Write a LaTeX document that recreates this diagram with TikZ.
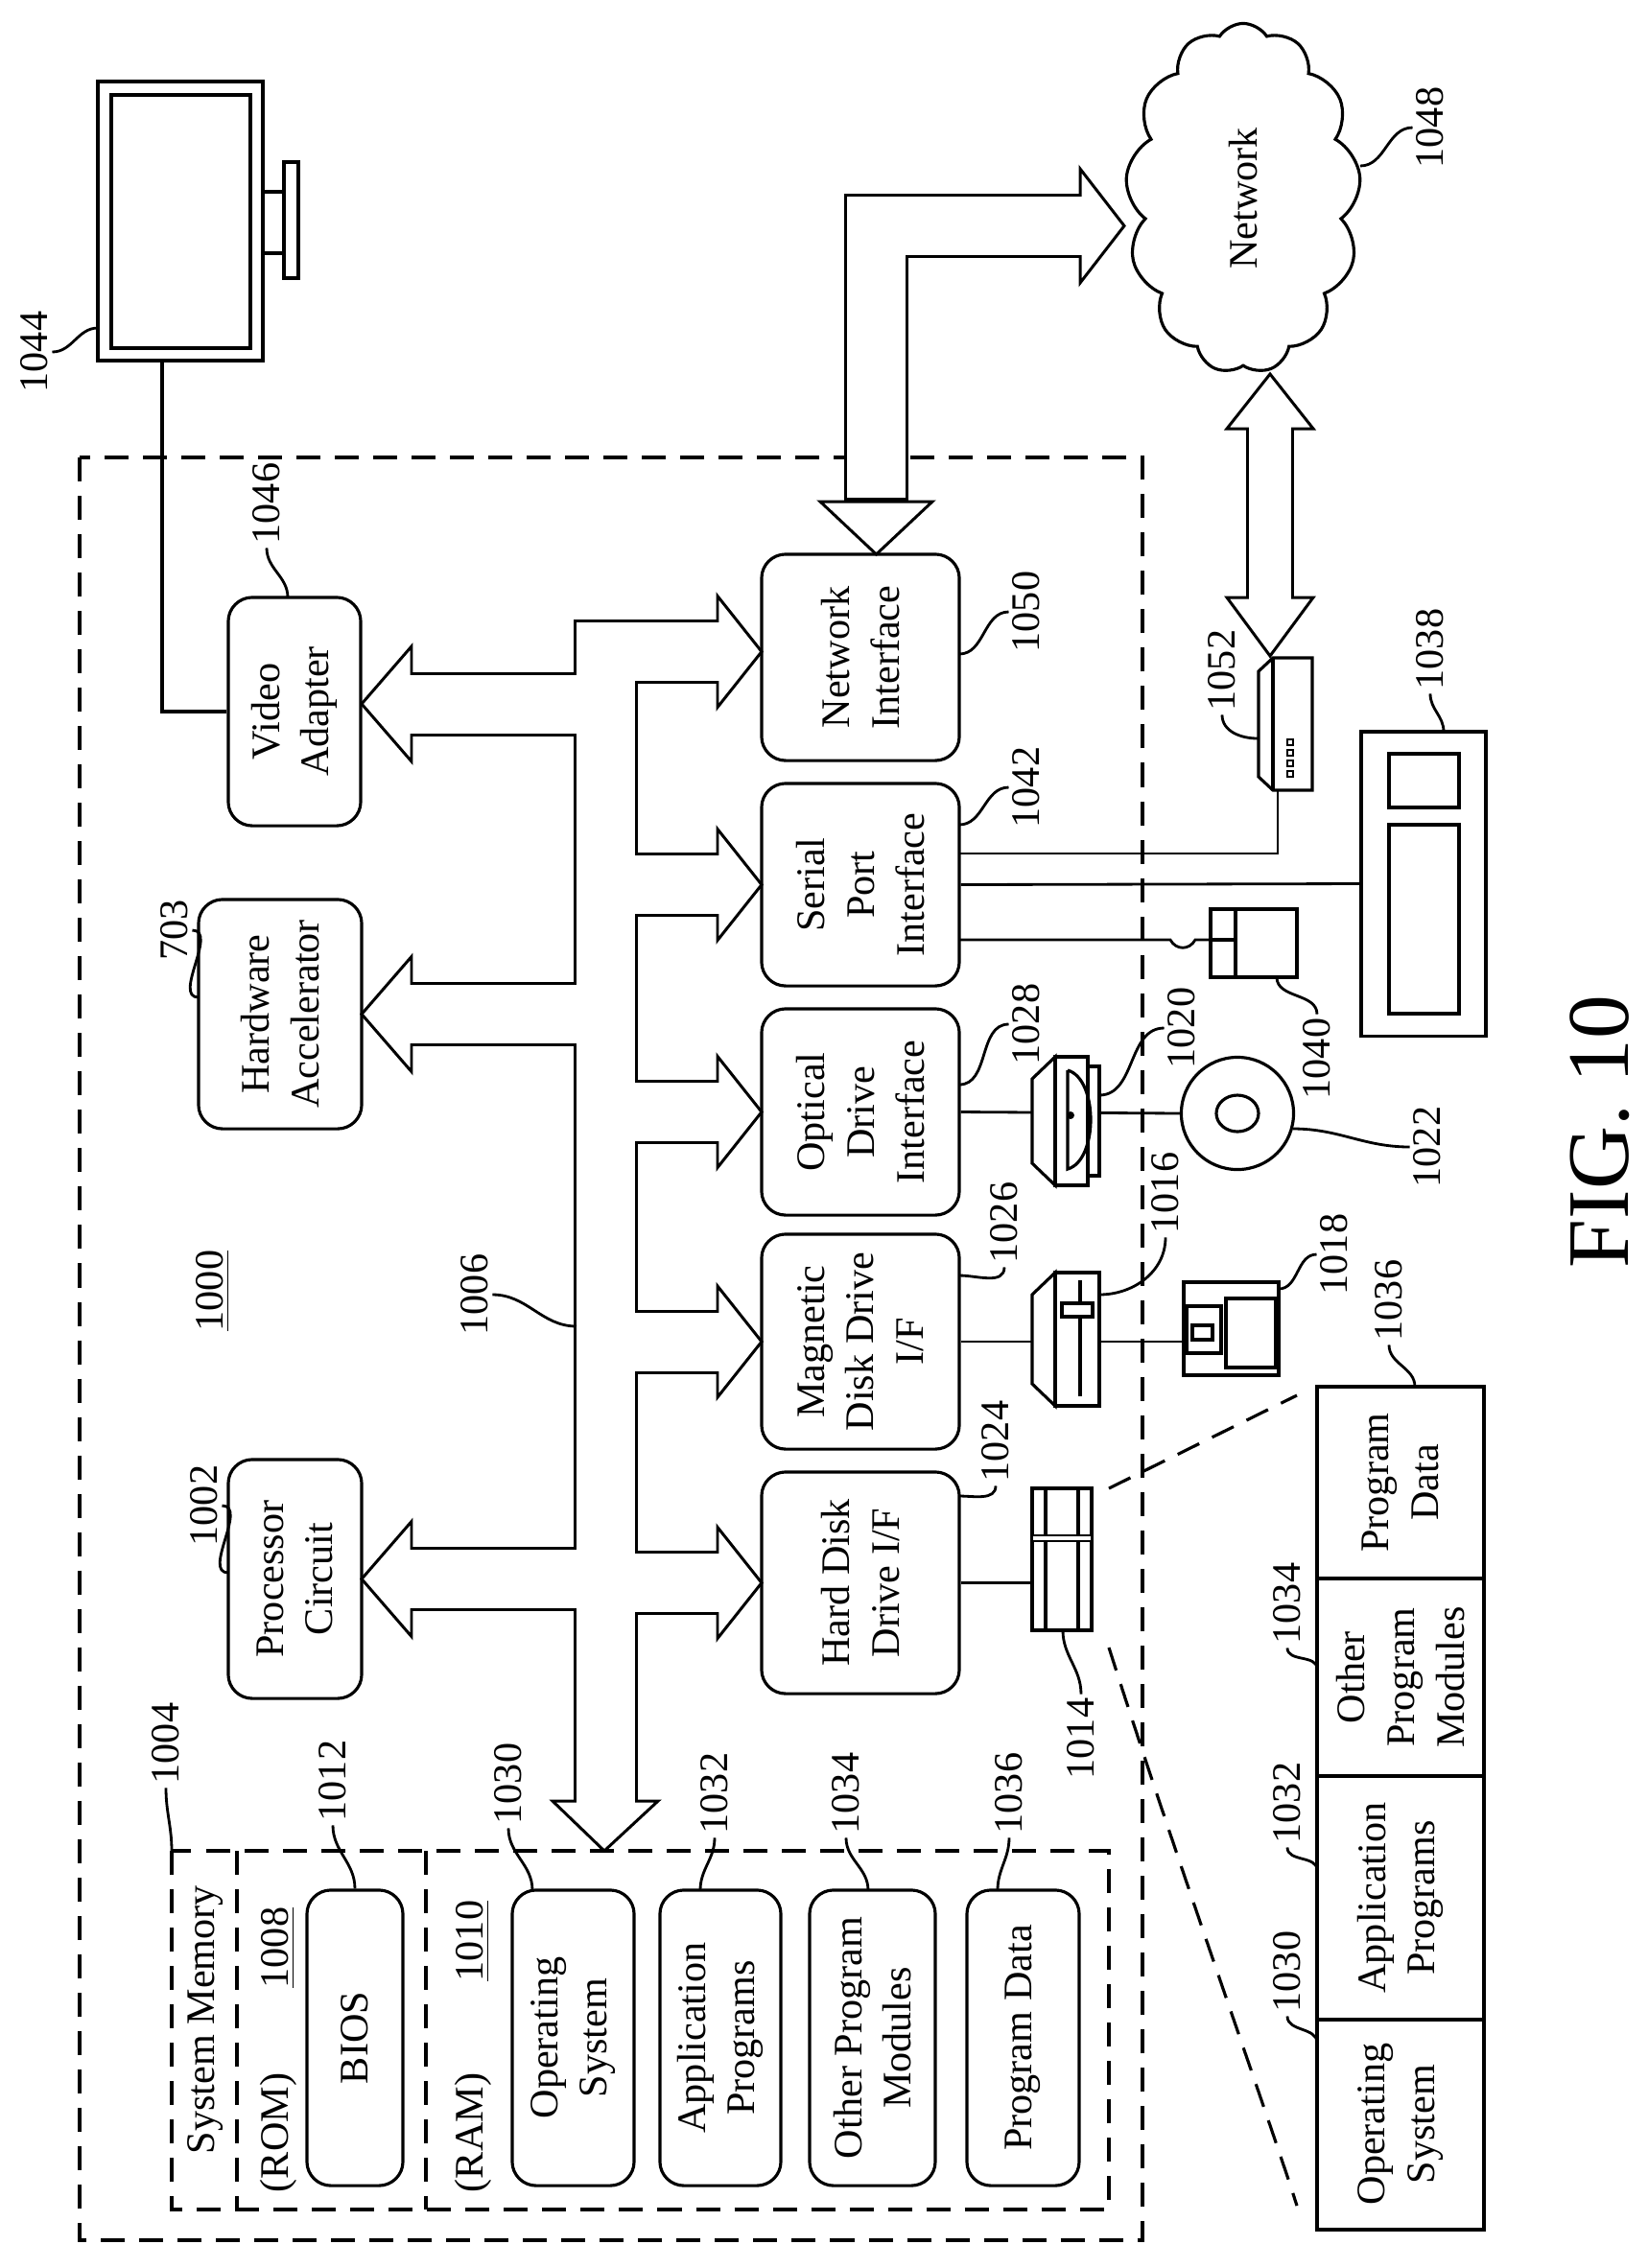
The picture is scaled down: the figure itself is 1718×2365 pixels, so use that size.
\documentclass[tikz,border=0pt]{standalone}
\usepackage{fontspec}
\setmainfont{Liberation Serif}
\usetikzlibrary{shapes.symbols}

\tikzset{
  blk/.style={draw, rounded corners=0.25cm, line width=0.9pt, rotate=90, align=center, inner sep=0pt},
  lbl/.style={rotate=90, inner sep=1pt},
  ldr/.style={line width=0.8pt},
  dsh/.style={line width=0.9pt, dash pattern=on 0.25cm off 0.15cm},
  busout/.style={line width=0.61cm+1.7pt, line join=miter},
  busin/.style={white, line width=0.61cm, line join=miter},
  head/.style={draw, fill=white, line width=0.85pt, line join=miter},
}

\begin{document}
\begin{tikzpicture}[x=0.01cm, y=-0.01cm, font=\fontsize{12}{14.7}\selectfont]
      \useasboundingbox (0,0) rectangle (1718,2365);
%
      % dashed frames
      \draw[dsh] (83,477) rectangle (1191,2336);
      \draw[dsh] (179,1930) rectangle (1156,2304);
      \draw[dsh] (247,1930) -- (247,2304);
      \draw[dsh] (444,1930) -- (444,2304);
%
      % blocks
      \node[blk, minimum width=2.38cm, minimum height=1.38cm] (vid) at (307,742) {Video\\Adapter};
      \node[blk, minimum width=2.39cm, minimum height=1.70cm] (hwa) at (292,1057.5) {Hardware\\Accelerator};
      \node[blk, minimum width=2.49cm, minimum height=1.39cm] (proc) at (307.5,1646.5) {Processor\\Circuit};
      \node[blk, minimum width=2.15cm, minimum height=2.06cm] (net) at (897,685.5) {Network\\Interface};
      \node[blk, minimum width=2.11cm, minimum height=2.06cm] (ser) at (897,922.5) {Serial\\Port\\Interface};
      \node[blk, minimum width=2.15cm, minimum height=2.06cm] (opt) at (897,1159.5) {Optical\\Drive\\Interface};
      \node[blk, minimum width=2.24cm, minimum height=2.06cm] (mag) at (897,1399) {Magnetic\\Disk Drive\\I/F};
      \node[blk, minimum width=2.31cm, minimum height=2.06cm] (hdd) at (897,1650.5) {Hard Disk\\Drive I/F};
%
      \node[blk, minimum width=3.08cm, minimum height=1.00cm] (bios) at (370,2125) {BIOS};
      \node[blk, minimum width=3.08cm, minimum height=1.27cm] (os) at (597.5,2125) {Operating\\System};
      \node[blk, minimum width=3.08cm, minimum height=1.26cm] (app) at (751,2125) {Application\\Programs};
      \node[blk, minimum width=3.08cm, minimum height=1.31cm] (oth) at (909.5,2125) {Other Program\\Modules};
      \node[blk, minimum width=3.08cm, minimum height=1.17cm] (pd) at (1066.5,2125) {Program Data};
%
      \node[lbl] (sysmem) at (214,2106) {System Memory};
      \node[lbl] (rom) at (290,2224) {(ROM)};
      \node[lbl] (n1008) at (290,2031) {\underline{1008}};
      \node[lbl] (ram) at (493,2224) {(RAM)};
      \node[lbl] (n1010) at (493,2024) {\underline{1010}};
      \node[lbl] (n1000) at (222,1346) {\underline{1000}};
%
      % bus 1006
      \draw[busout] (748,679.5) -- (631.5,679.5) -- (631.5,1878);
      \foreach \y in {734,1057.5,1646.5}
        \draw[busout] (631.5,\y) -- (429,\y);
      \foreach \y in {922.5,1159.5,1399,1650.5}
        \draw[busout] (631.5,\y) -- (748,\y);
      \foreach \y in {679.5,922.5,1159.5,1399,1650.5}
        \draw[head] (748,\y-58) -- (794,\y) -- (748,\y+58) -- cycle;
      \foreach \y in {734,1057.5,1646.5}
        \draw[head] (429,\y-60) -- (377,\y) -- (429,\y+60) -- cycle;
      \draw[head] (576,1878) -- (630,1930) -- (686,1878) -- cycle;
      \draw[busin] (752,679.5) -- (631.5,679.5) -- (631.5,1882);
      \foreach \y in {734,1057.5,1646.5}
        \draw[busin] (631.5,\y) -- (425,\y);
      \foreach \y in {922.5,1159.5,1399,1650.5}
        \draw[busin] (631.5,\y) -- (752,\y);
%
      % network link
      \node[cloud, draw, line width=0.9pt, cloud puffs=13, cloud puff arc=115, cloud ignores aspect,
            minimum width=2.45cm, minimum height=3.65cm] (cloudnet) at (1296,207) {};
      \node[lbl] (nettxt) at (cloudnet) {Network};
      \draw[busout] (913.5,523) -- (913.5,235.5) -- (1126,235.5);
      \draw[head] (855,523) -- (913.5,578) -- (972,523) -- cycle;
      \draw[head] (1126,176) -- (1172,235.5) -- (1126,295) -- cycle;
      \draw[busin] (913.5,519) -- (913.5,235.5) -- (1130,235.5);
      \draw[line width=0.44cm+1.7pt] (1324,447) -- (1324,623);
      \draw[head] (1279,447) -- (1324,390) -- (1369,447) -- cycle;
      \draw[head] (1279,623) -- (1324,684) -- (1369,623) -- cycle;
      \draw[white, line width=0.44cm] (1324,443) -- (1324,627);
%
      % monitor
      \draw[line width=0.9pt] (102,85) rectangle (274,376);
      \draw[line width=1.2pt] (116,99) rectangle (261,363);
      \draw[line width=0.9pt] (274,200) -- (296,200) (274,264) -- (296,264);
      \draw[line width=0.9pt] (296,169) rectangle (311,290);
      \coordinate (mon) at (169,376);
      \draw[line width=0.9pt] (mon) |- (vid.north);
%
      % serial port devices
      \draw[line width=0.9pt] (1312,700) -- (1327,686) -- (1368,686) -- (1368,824) -- (1327,824) -- (1312,810) -- cycle;
      \draw[line width=0.9pt] (1327,686) -- (1327,824);
      \foreach \y in {774,785,796,807}
        \draw[line width=0.7pt] (1342,\y-3) rectangle (1348,\y+3);
      \coordinate (mdm) at (1332,824);
      \node[draw, line width=0.9pt, minimum width=1.30cm, minimum height=3.17cm, inner sep=0pt] (kbd) at (1484,921.5) {};
      \draw[line width=0.9pt] (1448,786) rectangle (1521,842) (1448,860) rectangle (1521,1057);
      \node[draw, line width=0.9pt, minimum width=0.90cm, minimum height=0.71cm, inner sep=0pt] (mouse) at (1307,983.5) {};
      \draw[line width=0.9pt] (1288,948) -- (1288,1019) (1262,980) -- (1288,980);
      \draw[line width=0.8pt] (1000,890) -| (mdm);
      \draw[line width=0.8pt] (ser.south) -- (kbd.west);
      \draw[line width=0.8pt] (1000,980) -- (1220,980) .. controls (1226,991) and (1240,991) .. (1246,980) -- (mouse.west |- 0,980);
%
      % optical drive and disc
      \draw[line width=0.8pt] (opt.south) -- (1232,1161);
      \draw[line width=0.9pt, fill=white] (1100,1102) -- (1076,1125) -- (1076,1213) -- (1100,1236) -- cycle;
      \draw[line width=0.9pt, fill=white] (1100,1102) rectangle (1134,1236);
      \draw[line width=0.9pt, fill=white] (1134,1112) rectangle (1146,1226);
      \draw[line width=0.9pt] (1113,1116) -- (1113,1219) .. controls (1145,1210) and (1145,1125) .. (1113,1116);
      \fill (1116,1163) circle (4);
      \node[circle, draw, line width=0.9pt, minimum size=1.17cm, inner sep=0pt] (disc) at (1290,1161) {};
      \draw[line width=0.9pt] (1290,1161) ellipse (22 and 19);
%
      % magnetic drive and floppy
      \draw[line width=0.8pt] (mag.south) -- (1234,1399);
      \draw[line width=0.9pt, fill=white] (1100,1327) -- (1076,1350) -- (1076,1443) -- (1100,1466) -- cycle;
      \draw[line width=0.9pt, fill=white] (1100,1327) rectangle (1146,1466);
      \draw[line width=0.9pt] (1126,1335) -- (1126,1456);
      \draw[line width=0.9pt, fill=white] (1107,1359) rectangle (1139,1373);
      \node[draw, line width=0.9pt, minimum width=0.99cm, minimum height=0.97cm, inner sep=0pt] (flop) at (1283.5,1385.5) {};
      \draw[line width=0.9pt] (1237,1362) rectangle (1273,1411) (1243,1382) rectangle (1264,1397) (1278,1354) rectangle (1330,1426);
%
      % hard disk
      \draw[line width=0.8pt] (hdd.south) -- (1076,1650.5);
      \node[draw, line width=0.9pt, minimum width=0.62cm, minimum height=1.48cm, inner sep=0pt] (hd) at (1107,1626) {};
      \draw[line width=1.2pt] (1090,1552) -- (1090,1700) (1124,1552) -- (1124,1700);
      \draw[line width=0.8pt, fill=white] (1076,1601) rectangle (1138,1607);
%
      % expanded program table
      \draw[line width=1.2pt] (1373,1446) rectangle (1547,2325);
      \draw[line width=0.9pt] (1373,1646) -- (1547,1646) (1373,1852) -- (1547,1852) (1373,2106) -- (1547,2106);
      \node[lbl, align=center] (tpd) at (1460,1546) {Program\\Data};
      \node[lbl, align=center] (toth) at (1460,1749) {Other\\Program\\Modules};
      \node[lbl, align=center] (tapp) at (1460,1979) {Application\\Programs};
      \node[lbl, align=center] (tos) at (1460,2215) {Operating\\System};
      \draw[dsh] (1156,1552) -- (1352,1455);
      \draw[dsh] (1156,1718) .. controls (1230,1950) and (1320,2200) .. (1352,2300);
%
      % reference numerals
      \node[lbl] (l1044) at (36,367) {1044};
      \draw[ldr] (l1044.south) to[out=0,in=180] (102,342);
      \node[lbl] (l1046) at (278,525) {1046};
      \draw[ldr] (l1046.west) to[out=-90,in=90] (300,623);
      \node[lbl] (l703) at (182,970) {703};
      \draw[ldr] (l703.south) to[out=0,in=180] (207,1040);
      \node[lbl] (l1002) at (213,1570) {1002};
      \draw[ldr] (l1002.south) to[out=0,in=180] (238,1640);
      \node[lbl] (l1006) at (495,1350) {1006};
      \draw[ldr] (l1006.south) to[out=0,in=180] (601,1383);
      \node[lbl] (l1004) at (173,1818) {1004};
      \draw[ldr] (l1004.west) to[out=-90,in=90] (179,1930);
      \node[lbl] (l1012) at (347,1857) {1012};
      \draw[ldr] (l1012.west) to[out=-90,in=90] (bios.east);
      \node[lbl] (l1030) at (530,1860) {1030};
      \draw[ldr] (l1030.west) to[out=-90,in=90] (555,1971);
      \node[lbl] (l1032) at (745,1870) {1032};
      \draw[ldr] (l1032.west) to[out=-90,in=90] (730,1971);
      \node[lbl] (l1034) at (882,1870) {1034};
      \draw[ldr] (l1034.west) to[out=-90,in=90] (905,1971);
      \node[lbl] (l1036) at (1052,1870) {1036};
      \draw[ldr] (l1036.west) to[out=-90,in=90] (1040,1971);
      \node[lbl] (l1050) at (1070,638) {1050};
      \draw[ldr] (1000,682) to[out=0,in=180] (l1050.north);
      \node[lbl] (l1042) at (1070,821) {1042};
      \draw[ldr] (1000,860) to[out=0,in=180] (l1042.north);
      \node[lbl] (l1028) at (1070,1068) {1028};
      \draw[ldr] (1000,1131) to[out=0,in=180] (l1028.north);
      \node[lbl] (l1026) at (1047,1275) {1026};
      \draw[ldr] (1000,1330) to[out=0,in=-90] (l1026.west);
      \node[lbl] (l1024) at (1038,1503) {1024};
      \draw[ldr] (1000,1560) to[out=0,in=-90] (l1024.west);
      \node[lbl] (l1048) at (1491,133) {1048};
      \draw[ldr] (1418,173) to[out=0,in=180] (l1048.north);
      \node[lbl] (l1052) at (1274,699) {1052};
      \draw[ldr] (l1052.west) to[out=-90,in=180] (1311,770);
      \node[lbl] (l1038) at (1491,677) {1038};
      \draw[ldr] (l1038.west) to[out=-90,in=90] (1505,763);
      \node[lbl] (l1040) at (1373,1104) {1040};
      \draw[ldr] (1331,1019) to[out=-90,in=90] (l1040.east);
      \node[lbl] (l1020) at (1232,1072) {1020};
      \draw[ldr] (1146,1142) to[out=0,in=180] (l1020.north);
      \node[lbl] (l1022) at (1488,1196) {1022};
      \draw[ldr] (1348,1177) to[out=0,in=180] (l1022.north);
      \node[lbl] (l1016) at (1215,1244) {1016};
      \draw[ldr] (1146,1350) to[out=0,in=-90] (l1016.west);
      \node[lbl] (l1018) at (1391,1308) {1018};
      \draw[ldr] (1333,1344) to[out=0,in=180] (l1018.north);
      \node[lbl] (l1036b) at (1448,1356) {1036};
      \draw[ldr] (l1036b.west) to[out=-90,in=90] (1475,1446);
      \node[lbl] (l1014) at (1127,1813) {1014};
      \draw[ldr] (1108,1700) to[out=-90,in=90] (l1014.east);
      \node[lbl] (l1034b) at (1342,1672) {1034};
      \draw[ldr] (l1034b.west) to[out=-90,in=90] (1373,1740);
      \node[lbl] (l1032b) at (1342,1880) {1032};
      \draw[ldr] (l1032b.west) to[out=-90,in=90] (1373,1950);
      \node[lbl] (l1030b) at (1342,2056) {1030};
      \draw[ldr] (l1030b.west) to[out=-90,in=90] (1373,2130);
%
      \node[lbl, font=\fontsize{26}{30}\selectfont] (fig) at (1668,1180) {FIG. 10};
\end{tikzpicture}
\end{document}
